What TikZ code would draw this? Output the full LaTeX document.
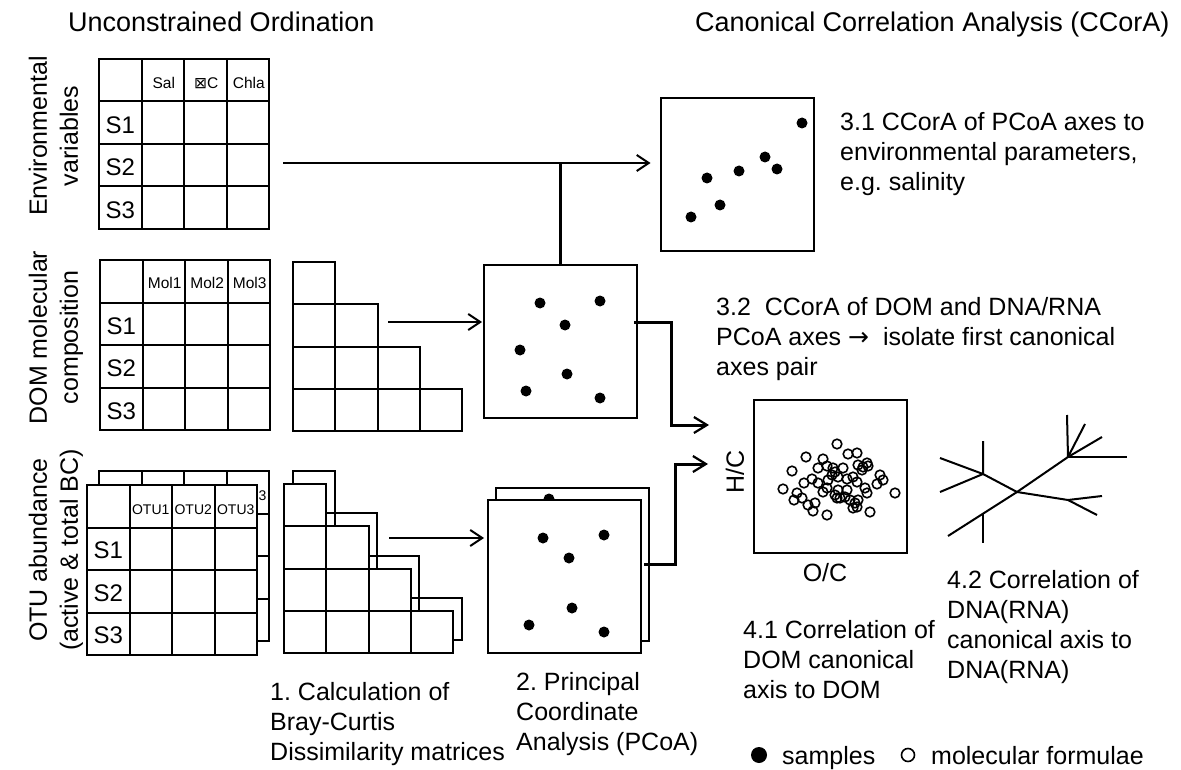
\documentclass[tikz,border=0pt]{standalone}
\usepackage{fontspec}
\setmainfont{Liberation Sans}
\newfontfamily\symfont{DejaVu Sans}
\frenchspacing
\usetikzlibrary{arrows.meta}
\tikzset{
  tabline/.style={line width=2pt},
  plotbox/.style={draw, line width=2pt, fill=white, minimum width=153pt, minimum height=153pt, inner sep=0pt},
  conn/.style={line width=2pt, -{Straight Barb[length=12pt,width=16pt,line width=2pt]}},
  heavyconn/.style={line width=3pt, -{Straight Barb[length=13pt,width=16pt,line width=2.2pt]}},
  heavyline/.style={line width=3pt},
  treeline/.style={line width=2pt},
  ring/.style={line width=1.6pt},
  body/.style={font=\fontsize{25}{30}\selectfont, inner sep=0pt, align=left, anchor=north west},
  heading/.style={font=\fontsize{27}{32}\selectfont, inner sep=0pt, anchor=base west},
  legendtext/.style={font=\fontsize{25}{30}\selectfont, inner sep=0pt, anchor=base west},
  sidelabel/.style={font=\fontsize{25}{31}\selectfont, inner sep=0pt, align=center, rotate=90},
  axlab/.style={font=\fontsize{25}{30}\selectfont, inner sep=0pt},
  rowlab/.style={font=\fontsize{24}{28}\selectfont, inner sep=0pt},
  collab/.style={font=\fontsize{15.5}{18}\selectfont, inner sep=0pt},
  otuhead/.style={font=\fontsize{14}{16}\selectfont, inner sep=0pt},
  grid4/.pic={
    \draw[tabline, fill=white] (0,0) rectangle (170,170);
    \foreach \k in {1,2,3}
      \draw[tabline] (\k*42.5,0) -- (\k*42.5,170) (0,\k*42.5) -- (170,\k*42.5);
  },
  stair/.pic={
    \draw[tabline, fill=white] (0,0) -- (42.3,0) -- (42.3,42.3) -- (84.6,42.3) -- (84.6,84.6)
      -- (126.9,84.6) -- (126.9,126.9) -- (169.2,126.9) -- (169.2,169.2) -- (0,169.2) -- cycle;
    \foreach \k in {1,2,3}
      \draw[tabline] (0,\k*42.3) -| (\k*42.3,169.2);
  }
}

\begin{document}
\begin{tikzpicture}[x=1pt,y=-1pt]
\useasboundingbox (0,0) rectangle (1181,770);

\node[heading] (uo) at (68,31.5) {Unconstrained Ordination};
\node[heading] (cca) at (695,31.5) {Canonical Correlation Analysis (CCorA)};

\node[sidelabel] (envside) at (53.5,136) {Environmental\\variables};
\node[sidelabel] (domside) at (56,337.5) {DOM molecular\\composition};
\node[sidelabel] (otuside) at (56,550) {OTU abundance\\(active \& total BC)};

\pic at (99,59) {grid4};
\node[collab] (sal) at (163.75,83) {Sal};
\node[collab] (temp) at (206.25,83) {{\symfont ⊠}C};
\node[collab] (chla) at (248.75,83) {Chla};
\node[rowlab] (envs1) at (120.25,125) {S1};
\node[rowlab] (envs2) at (120.25,167) {S2};
\node[rowlab] (envs3) at (120.25,210) {S3};

\pic at (100,260) {grid4};
\node[collab] (mol1) at (164.75,283) {Mol1};
\node[collab] (mol2) at (207.25,283) {Mol2};
\node[collab] (mol3) at (249.75,283) {Mol3};
\node[rowlab] (doms1) at (121.25,326) {S1};
\node[rowlab] (doms2) at (121.25,368.5) {S2};
\node[rowlab] (doms3) at (121.25,411) {S3};
\pic at (293,262) {stair};

\pic at (99,471) {grid4};
\node[otuhead] (otu3b) at (247.75,496) {OTU3};
\pic at (87,485) {grid4};
\node[otuhead] (otu1) at (150.75,510) {OTU1};
\node[otuhead] (otu2) at (193.25,510) {OTU2};
\node[otuhead] (otu3) at (235.75,510) {OTU3};
\node[rowlab] (otus1) at (108.25,550.5) {S1};
\node[rowlab] (otus2) at (108.25,593) {S2};
\node[rowlab] (otus3) at (108.25,635.5) {S3};
\pic at (292.5,471) {stair};
\pic at (284,484) {stair};

\node[plotbox] (envplot) at (737,174.5) {};
\foreach \p in {(802,123),(765,157),(777,169),(739,171),(707,178),(720,205),(691,217)}
  \fill \p circle[radius=5.5pt];

\node[plotbox] (pcoa1) at (560.5,341.5) {};
\foreach \p in {(540,303),(600,301),(565,325),(520,350),(567,374),(526,391),(600,398)}
  \fill \p circle[radius=5.5pt];

\node[plotbox] (pcoa2b) at (572.5,564.5) {};
\fill (549,499) circle[radius=5.5pt];
\node[plotbox] (pcoa2) at (564.5,576) {};
\foreach \p in {(543,538),(604,535),(569,558),(572,608),(529,625),(604,632)}
  \fill \p circle[radius=5.5pt];

\node[plotbox] (hcplot) at (830.5,476) {};
\foreach \p in {(837,444),(848,454),(857,453),(806,457),(823,459),(792,471),(818,468),(827,466),
  (833,468),(835,472),(843,468),(858,465),(863,467),(867,463),(868,466),(862,470),(880,475),
  (883,480),(877,484),(812,479),(804,483),(828,480),(847,479),(853,477),(857,482),(838,477),
  (783,489),(797,493),(794,500),(802,498),(808,505),(815,503),(813,511),(827,515),(823,492),
  (827,488),(835,495),(838,490),(840,498),(847,490),(850,500),(855,503),(857,507),(853,508),
  (865,488),(867,493),(870,512),(895,493),(845,497),(832,475),(818,483),(837,498),(858,500)}
  \draw[ring] \p circle[radius=4.8pt];
\node[axlab, rotate=90] (hclab) at (735,472) {H/C};
\node[axlab] (oclab) at (825,573) {O/C};

\coordinate (envout) at (283,163);
\coordinate (domout) at (388,322);
\coordinate (otuout) at (389,538);
\coordinate (in1) at (709,425);
\coordinate (in2) at (708,464);
\draw[conn, line width=2.5pt, shorten >=9pt] (envout) -- (envplot.west |- envout);
\draw[heavyline] (pcoa1.north) -- (pcoa1.north |- envout);
\draw[conn, shorten >=1pt] (domout) -- (pcoa1.west |- domout);
\draw[conn, shorten >=3pt] (otuout) -- (pcoa2.west |- otuout);
\draw[heavyconn] ([xshift=-4pt]pcoa1.east |- domout) -- ++(37,0) |- (in1);
\draw[heavyconn] ([xshift=-6pt]pcoa2b.east) -- ++(31,0) |- (in2);

\draw[treeline] (948,536) -- (1017,492) -- (1068,457) -- (1067,415);
\draw[treeline] (1068,457) -- (1085,424);
\draw[treeline] (1068,457) -- (1102,437);
\draw[treeline] (1068,457) -- (1127,457);
\draw[treeline] (1017,492) -- (1068,500) -- (1102,496);
\draw[treeline] (1068,500) -- (1097,515);
\draw[treeline] (940,458) -- (983,474) -- (1017,492);
\draw[treeline] (940,492) -- (983,474) -- (983,441);
\draw[treeline] (983,513) -- (983,543);

\node[body] (step31) at (840,112.5) {3.1 CCorA of PCoA axes to\\environmental parameters,\\e.g. salinity};
\node[body] (step32) at (716,297.5) {3.2\ \ CCorA of DOM and DNA/RNA\\PCoA axes {\symfont →}\ \ isolate first canonical\\axes pair};
\node[body] (step41) at (743,620.5) {4.1 Correlation of\\DOM canonical\\axis to DOM};
\node[body] (step42) at (947,570.5) {4.2 Correlation of\\DNA(RNA)\\canonical axis to\\DNA(RNA)};
\node[body] (step1) at (270,682.5) {1. Calculation of\\Bray-Curtis\\Dissimilarity matrices};
\node[body] (step2) at (516,672.5) {2. Principal\\Coordinate\\Analysis (PCoA)};

\fill (759,755) circle[radius=8pt];
\node[legendtext] (smp) at (782,764) {samples};
\draw[ring] (908,755) circle[radius=6.5pt];
\node[legendtext] (molf) at (931,764) {molecular formulae};
\end{tikzpicture}
\end{document}
